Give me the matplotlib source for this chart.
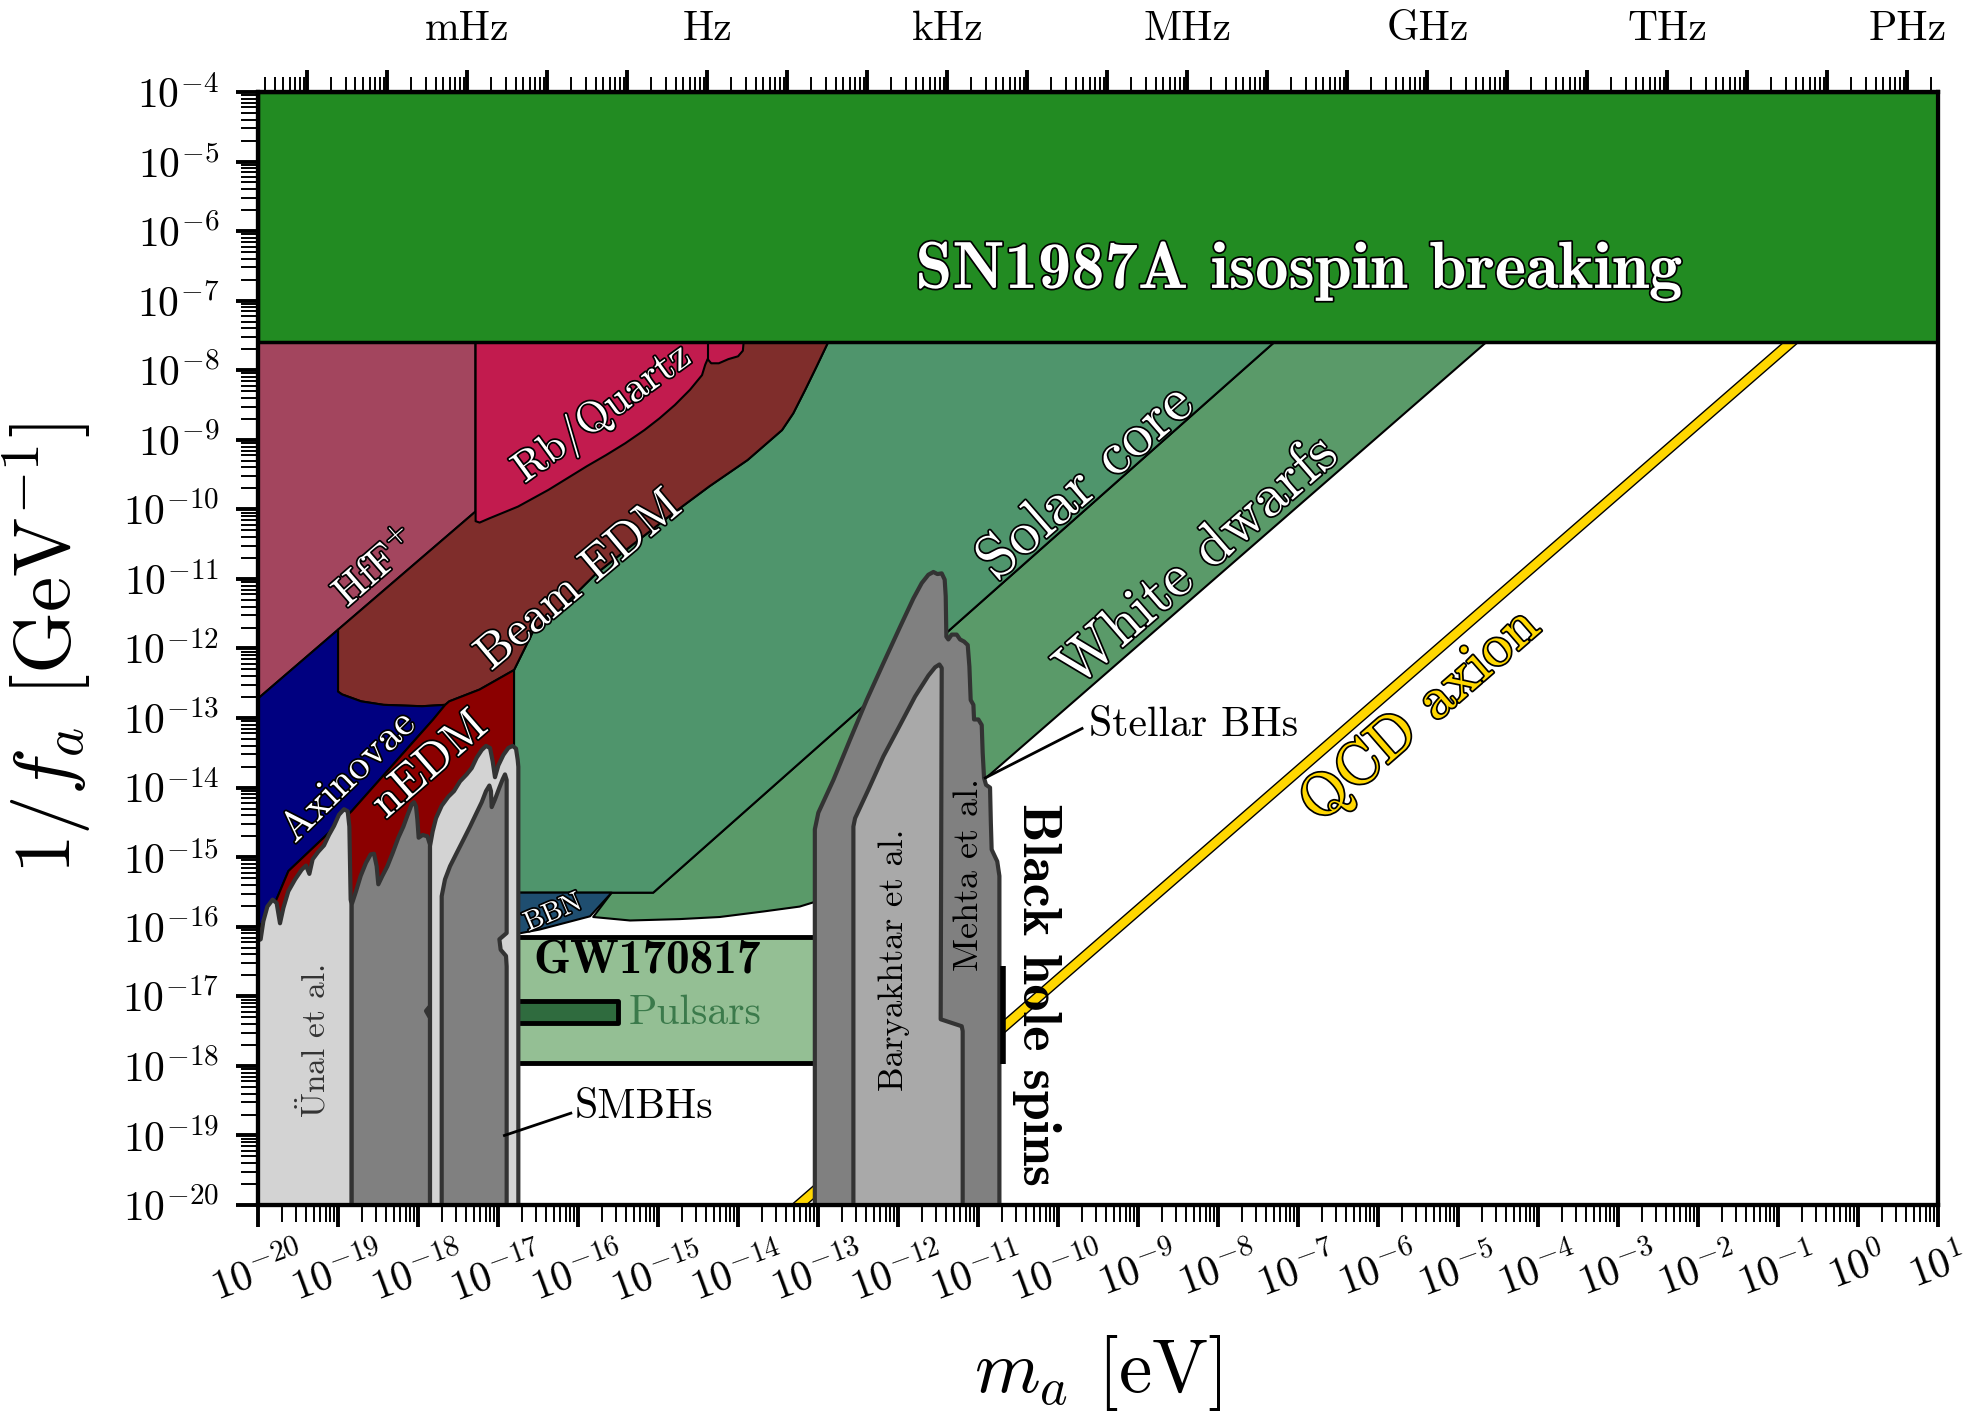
import numpy as np
import matplotlib
matplotlib.use('Agg')
import matplotlib.pyplot as plt
import matplotlib.patheffects as pe
from matplotlib.ticker import LogLocator, NullFormatter

plt.rcParams['font.family'] = 'cmr10'
plt.rcParams['mathtext.fontset'] = 'cm'
plt.rcParams['axes.unicode_minus'] = False
plt.rcParams['axes.formatter.use_mathtext'] = True

# all values below are log10(m_a / eV) and log10(1/f_a / GeV^-1)
sn_lm = [-20, 1, 1, -20]
sn_lg = [-4, -4, -7.6, -7.6]

hff_lm = [-20, -17.28, -17.28, -20]
hff_lg = [-7.6, -7.6, -10.03, -12.72]

rbq_lm = [-17.28, -13.93, -13.94, -14.0, -14.12, -14.24, -14.335, -14.38, -14.41, -14.45, -14.6, -14.79,
          -14.98, -15.17, -15.41, -15.65, -15.89, -16.13, -16.37, -16.56, -16.75, -16.94, -17.11, -17.23, -17.28]
rbq_lg = [-7.6, -7.6, -7.72, -7.80, -7.84, -7.90, -7.90, -7.84, -7.92, -8.07, -8.28, -8.50,
          -8.69, -8.86, -9.05, -9.22, -9.38, -9.55, -9.72, -9.84, -9.96, -10.05, -10.13, -10.19, -10.17]

# right edge of beam EDM (shared with solar core)
edm_edge_lm = [-12.875, -13.02, -13.16, -13.31, -13.45, -13.64, -13.88, -14.36, -14.84, -15.32, -15.79, -16.27, -16.56, -16.80]
edm_edge_lg = [-7.6, -7.95, -8.28, -8.62, -8.86, -9.05, -9.29, -9.67, -10.08, -10.51, -10.94, -11.49, -11.75, -12.31]
# bottom of beam EDM, right to left
edm_bot_lm = [-17.23, -17.61, -17.66, -17.95, -18.43, -18.71, -18.95, -19.0]
edm_bot_lg = [-12.59, -12.76, -12.81, -12.83, -12.81, -12.76, -12.66, -12.62]

axi_lm = [-20, -19.0, -19.0, -18.95, -18.71, -18.43, -17.95, -17.66, -17.81, -18.83, -19.62, -19.77, -19.93, -20]
axi_lg = [-12.72, -11.73, -12.62, -12.66, -12.76, -12.81, -12.83, -12.81, -13.02, -14.34, -15.20, -15.61, -15.90, -16.05]

nedm_lm = [-17.66, -17.61, -17.23, -16.80, -16.80, -20, -20, -19.93, -19.77, -19.62, -18.83, -17.81]
nedm_lg = [-12.81, -12.76, -12.59, -12.31, -20, -20, -16.05, -15.90, -15.61, -15.20, -14.34, -13.02]

wd_lm = [-7.3, -4.65, -10.9, -13.0, -13.06, -13.23, -13.68, -14.23, -14.73, -15.35, -15.81, -15.58, -15.06]
wd_lg = [-7.6, -7.6, -13.86, -15.6, -15.65, -15.71, -15.78, -15.86, -15.89, -15.91, -15.86, -15.51, -15.51]

solar_lm = edm_edge_lm + [-16.80, -15.06, -7.3]
solar_lg = edm_edge_lg + [-15.51, -15.51, -7.6]

bbn_lm = [-16.80, -15.58, -15.85, -16.48, -16.80]
bbn_lg = [-15.51, -15.51, -15.85, -16.04, -16.11]

gw_lm = [-16.80, -13.0, -13.0, -16.80]
gw_lg = [-16.15, -16.15, -17.96, -17.96]

psr_lm = [-16.80, -15.5, -15.5, -16.80]
psr_lg = [-17.07, -17.07, -17.39, -17.39]

qcd_lm = [-14, 1]
qcd_lg = [-20.76, -5.76]

unal_lm = [-20, -19.967, -19.933, -19.883, -19.817, -19.767, -19.725, -19.683, -19.621, -19.537, -19.454, -19.40,
           -19.358, -19.317, -19.246, -19.175, -19.113, -19.05, -18.988, -18.925, -18.879, -18.858, -18.842,
           -18.829, -18.829, -20]
unal_lg = [-16.2, -16.18, -15.92, -15.71, -15.61, -15.66, -15.95, -15.73, -15.49, -15.32, -15.18, -15.12,
           -15.24, -15.03, -14.92, -14.83, -14.68, -14.55, -14.39, -14.31, -14.34, -14.56, -15.61,
           -15.68, -20, -20]

smbh1_lm = [-18.829, -18.775, -18.717, -18.65, -18.592, -18.55, -18.517, -18.496, -18.446, -18.383, -18.317,
            -18.246, -18.183, -18.129, -18.079, -18.05, -18.025, -18.008, -17.992, -17.942, -17.883, -17.85,
            -17.85, -17.9, -17.85, -17.85, -18.829]
smbh1_lg = [-15.68, -15.49, -15.27, -15.08, -14.96, -14.95, -15.13, -15.39, -15.27, -15.13, -14.94,
            -14.72, -14.56, -14.39, -14.24, -14.21, -14.27, -14.46, -14.72, -14.68, -14.70, -14.82,
            -17.14, -17.21, -17.31, -20, -20]

unal2_lm = [-17.85, -17.817, -17.775, -17.704, -17.621, -17.55, -17.475, -17.392, -17.329, -17.267, -17.204,
            -17.15, -17.10, -17.067, -17.038, -16.996, -16.933, -16.871, -16.817, -16.775, -16.754, -16.746,
            -16.746, -17.85]
unal2_lg = [-14.84, -14.63, -14.44, -14.26, -14.13, -14.05, -13.91, -13.81, -13.72, -13.57, -13.46,
            -13.40, -13.43, -13.62, -13.85, -13.68, -13.53, -13.43, -13.40, -13.44, -13.60, -13.7,
            -20, -20]

smbh2_lm = [-17.704, -17.704, -17.663, -17.60, -17.517, -17.433, -17.35, -17.267, -17.204, -17.15, -17.108,
            -17.088, -17.079, -17.038, -16.983, -16.942, -16.913, -16.892, -16.892, -16.983, -16.967, -16.90,
            -16.892, -16.892]
smbh2_lg = [-20, -15.56, -15.32, -15.13, -14.94, -14.75, -14.56, -14.36, -14.21, -14.05, -13.97,
            -14.05, -14.28, -14.17, -14.0, -13.88, -13.81, -13.89, -16.09, -16.18, -16.33, -16.42,
            -16.57, -20]

mehta_lm = [-13.04, -13.04, -12.996, -12.808, -12.6, -12.392, -12.183, -11.975, -11.808, -11.704, -11.621,
            -11.558, -11.508, -11.454, -11.417, -11.404, -11.396, -11.371, -11.329, -11.267, -11.225, -11.175,
            -11.129, -11.108, -11.092, -11.058, -11.05, -10.996, -10.954, -10.942, -10.925, -10.90, -10.85,
            -10.84, -10.83, -10.76, -10.733, -10.733]
mehta_lg = [-20, -14.6, -14.36, -13.89, -13.31, -12.74, -12.21, -11.69, -11.28, -11.06, -10.94,
            -10.90, -10.93, -10.92, -11.01, -11.25, -11.83, -11.87, -11.80, -11.80, -11.87, -11.90,
            -11.95, -12.26, -12.74, -12.81, -13.02, -13.02, -13.10, -13.50, -13.86, -13.96, -14.0,
            -14.5, -14.89, -15.06, -15.27, -20]

bary_lm = [-12.558, -12.558, -12.537, -12.371, -12.183, -11.975, -11.787, -11.621, -11.537, -11.483, -11.454,
           -11.467, -11.204, -11.192, -11.192]
bary_lg = [-20, -14.56, -14.44, -14.03, -13.55, -13.10, -12.69, -12.39, -12.27, -12.23, -12.28,
           -17.33, -17.43, -17.5, -20]

bhspin_lm = [-10.69, -10.69]
bhspin_lg = [-16.56, -17.98]

freq_names = ['mHz', 'Hz', 'kHz', 'MHz', 'GHz', 'THz', 'PHz']
freq_exp = [-3, 0, 3, 6, 9, 12, 15]
h_evs = 4.1357e-15  # eV s


def P(lm, lg):
    return 10.0 ** np.array(lm, float), 10.0 ** np.array(lg, float)


fig = plt.figure(figsize=(19.68, 14.15), dpi=100)
ax = fig.add_axes([0.1311, 0.1484, 0.8537, 0.7866])
ax.set_xscale('log')
ax.set_yscale('log')


def region(lm, lg, fc, ec='k', lw=1.5, z=2):
    x, y = P(lm, lg)
    ax.fill(x, y, facecolor=fc, edgecolor=ec, lw=lw, zorder=z, joinstyle='round')


region(hff_lm, hff_lg, '#a3455e')
region(wd_lm, wd_lg, '#5a9a69')
region(solar_lm, solar_lg, '#4f956c')
region([-19.0, -17.28, -17.28] + edm_edge_lm + edm_bot_lm,
       [-11.73, -10.03, -7.6] + edm_edge_lg + edm_bot_lg, '#7f2d2b')
region(rbq_lm, rbq_lg, '#c21b4e')
x, y = P([-14.38, -14.38], [-7.6, -7.84])
ax.plot(x, y, color='k', lw=1.5, zorder=2)
region(axi_lm, axi_lg, '#000080')
region(nedm_lm, nedm_lg, '#8b0000')
region(bbn_lm, bbn_lg, '#1f4e70')
region(gw_lm, gw_lg, '#94bf94', lw=3.5)
region(psr_lm, psr_lg, '#2f6b3e', lw=3.5)

x, y = P(qcd_lm, qcd_lg)
ax.plot(x, y, color='#ffd700', lw=6, zorder=3,
        path_effects=[pe.Stroke(linewidth=8, foreground='k'), pe.Normal()])

region(sn_lm, sn_lg, '#228b22', lw=2.5, z=5)

gcol = '#333333'
region(unal_lm, unal_lg, '#d3d3d3', ec=gcol, lw=3, z=4)
region(smbh1_lm, smbh1_lg, '#808080', ec=gcol, lw=3, z=4)
region(unal2_lm, unal2_lg, '#d3d3d3', ec=gcol, lw=3, z=4)
region(smbh2_lm, smbh2_lg, '#808080', ec=gcol, lw=3, z=4)
region(mehta_lm, mehta_lg, '#808080', ec=gcol, lw=3, z=4)
region(bary_lm, bary_lg, '#a9a9a9', ec=gcol, lw=3, z=4)

x, y = P(bhspin_lm, bhspin_lg)
ax.plot(x, y, color='k', lw=4, zorder=5, solid_capstyle='butt')

x, y = P([-10.91, -9.70], [-13.86, -13.15])
ax.plot(x, y, color='k', lw=2, zorder=6)
x, y = P([-16.92, -16.09], [-19.0, -18.68])
ax.plot(x, y, color='k', lw=2, zorder=6)

outline = [pe.withStroke(linewidth=2.5, foreground='k')]


def label(lm, lg, s, size, rot=0, color='w', fam='cmr10', ol=True, ha='center'):
    ax.text(10.0 ** lm, 10.0 ** lg, s, fontsize=size, rotation=rot, color=color, family=fam,
            ha=ha, va='center', rotation_mode='anchor', zorder=10,
            path_effects=outline if ol else None)


label(-6.99, -6.58, 'SN1987A isospin breaking', 48, fam='cmb10')
label(-18.52, -10.85, r'HfF$^{+}$', 30, 41)
label(-15.69, -8.63, 'Rb/Quartz', 31, 36)
label(-15.98, -11.03, 'Beam EDM', 35, 40)
label(-18.87, -13.85, 'Axinovae', 30, 44)
label(-17.85, -13.68, 'nEDM', 34, 41)
label(-9.65, -9.62, 'Solar core', 44, 41)
label(-8.25, -10.76, 'White dwarfs', 43, 41)
label(-5.47, -12.96, 'QCD axion', 43, 41, color='#ffd700')
label(-16.31, -15.80, 'BBN', 20, 23)
label(-16.56, -16.50, 'GW170817', 34, fam='cmb10', color='k', ol=False, ha='left')
label(-15.37, -17.24, 'Pulsars', 30, color='#3b7a4b', ol=False, ha='left')
label(-19.3, -17.65, r'$\ddot{\mathrm{U}}$nal et al.', 24, 90, color='#333333', ol=False)
label(-12.05, -16.48, 'Baryakhtar et al.', 25, 90, color='k', ol=False)
label(-11.11, -15.25, 'Mehta et al.', 26, 90, color='k', ol=False)
label(-10.27, -16.97, 'Black hole spins', 39, -90, color='k', fam='cmb10', ol=False)
label(-9.61, -13.1, 'Stellar BHs', 30, color='k', ol=False, ha='left')
label(-16.04, -18.59, 'SMBHs', 30, color='k', ol=False, ha='left')

ax.set_xlim(1e-20, 1e1)
ax.set_ylim(1e-20, 1e-4)
xe = np.arange(-20, 2)
ye = np.arange(-20, -3)
ax.set_xticks(10.0 ** xe)
ax.set_xticklabels([r'$10^{%d}$' % e for e in xe], rotation=20)
ax.set_yticks(10.0 ** ye)
ax.set_yticklabels([r'$10^{%d}$' % e for e in ye])
ax.xaxis.set_minor_locator(LogLocator(base=10, subs=np.arange(2, 10), numticks=100))
ax.yaxis.set_minor_locator(LogLocator(base=10, subs=np.arange(2, 10), numticks=100))
ax.xaxis.set_minor_formatter(NullFormatter())
ax.yaxis.set_minor_formatter(NullFormatter())
ax.tick_params(which='major', direction='out', length=16, width=2.8, labelsize=30)
ax.tick_params(which='minor', direction='out', length=12, width=1.4)
ax.tick_params(axis='x', which='major', pad=8)
ax.tick_params(axis='y', which='major', pad=12)
for sp in ax.spines.values():
    sp.set_linewidth(3)

ax.set_xlabel(r'$m_a$ [eV]', fontsize=54)
ax.xaxis.set_label_coords(0.5, -0.115)
ax.set_ylabel(r'$1/f_a$ [GeV$^{-1}$]', fontsize=57)
ax.yaxis.set_label_coords(-0.098, 0.5)

# frequency axis on top
ax2 = ax.twiny()
ax2.set_xscale('log')
ax2.set_xlim(1e-20, 1e1)
fexp = np.arange(-6, 16)
fpos = h_evs * 10.0 ** fexp
fpos_in = fpos[(fpos >= 1e-20) & (fpos <= 1e1)]
flabels = []
for p in fpos_in:
    n = int(round(np.log10(p / h_evs)))
    flabels.append(freq_names[freq_exp.index(n)] if n in freq_exp else '')
ax2.set_xticks(fpos_in)
ax2.set_xticklabels(flabels)
fminor = np.array([h_evs * k * 10.0 ** n for n in fexp for k in range(2, 10)])
ax2.set_xticks(fminor[(fminor >= 1e-20) & (fminor <= 1e1)], minor=True)
ax2.xaxis.set_minor_formatter(NullFormatter())
ax2.tick_params(which='major', direction='out', length=16, width=2.8, labelsize=30, pad=16)
ax2.tick_params(which='minor', direction='out', length=11, width=1.4)
for sp in ax2.spines.values():
    sp.set_linewidth(3)

fig.savefig('out.png', dpi=100)
